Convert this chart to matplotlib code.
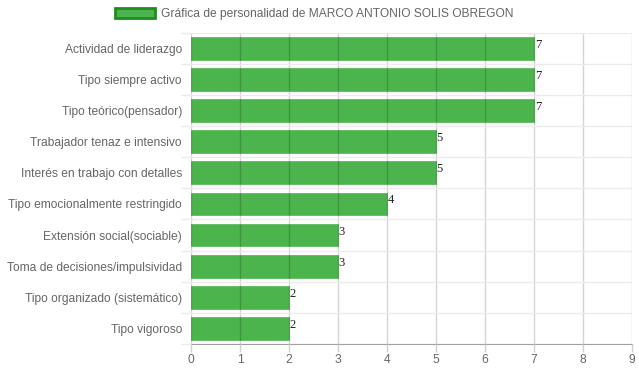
import matplotlib
matplotlib.use("Agg")
import matplotlib.pyplot as plt
from matplotlib.patches import Patch

plt.rcParams['font.family'] = ['Liberation Sans', 'DejaVu Sans']

# Data
categorias = ['Actividad de liderazgo', 'Tipo siempre activo', 'Tipo teórico(pensador)',
              'Trabajador tenaz e intensivo', 'Interés en trabajo con detalles',
              'Tipo emocionalmente restringido', 'Extensión social(sociable)',
              'Toma de decisiones/impulsividad', 'Tipo organizado (sistemático)',
              'Tipo vigoroso']
valores = [7, 7, 7, 5, 5, 4, 3, 3, 2, 2]
titulo = 'Gráfica de personalidad de MARCO ANTONIO SOLIS OBREGON'

verde = '#4cb44c'
borde = '#1e8c1e'
fs = 8.65

fig = plt.figure(figsize=(6.39, 3.72), dpi=100)
ax = fig.add_axes([191/639, 1 - 344/372, (632 - 191)/639, (344 - 32.7)/372])

pos = list(range(len(categorias)))
ax.barh(pos, valores, height=0.73, color=verde, edgecolor=verde, linewidth=0.5, zorder=2)

ax.set_xlim(0, 9)
ax.set_ylim(len(categorias) - 0.5, -0.5)
ax.set_xticks(range(10))
ax.set_yticks(pos)
ax.set_yticklabels(categorias)
ax.set_yticks([p + 0.5 for p in range(-1, len(categorias))], minor=True)

# grid: vertical lines darker and over the bars, horizontal separators light
ax.grid(axis='x', color='#000000', alpha=0.17, linewidth=1, zorder=3)
ax.grid(axis='y', which='minor', color='#ebebeb', linewidth=1, zorder=1)
ax.set_axisbelow(False)

for s in ['top', 'right', 'left']:
    ax.spines[s].set_visible(False)
ax.spines['bottom'].set_color('#a0a0a0')

ax.tick_params(axis='x', colors='#d0d0d0', labelcolor='#666666', labelsize=fs,
               length=6, width=1, pad=1.5)
ax.tick_params(axis='y', which='major', length=0, labelcolor='#666666', labelsize=fs, pad=6.5)
ax.tick_params(axis='y', which='minor', length=7, color='#ebebeb', width=1)

for p, v in zip(pos, valores):
    ax.annotate(str(v), (v, p), xytext=(0.5, 2.5), textcoords='offset points',
                ha='left', va='center', fontsize=9, color='#222222',
                family='Liberation Serif', zorder=4)

fig.legend(handles=[Patch(facecolor=verde, edgecolor=borde, linewidth=2)],
           labels=[titulo], loc='center', bbox_to_anchor=(314/639, 1 - 14/372),
           frameon=False, fontsize=fs, handlelength=3.3, handleheight=0.9,
           handletextpad=0.5, labelcolor='#666666')

fig.savefig('out.png', dpi=100)
